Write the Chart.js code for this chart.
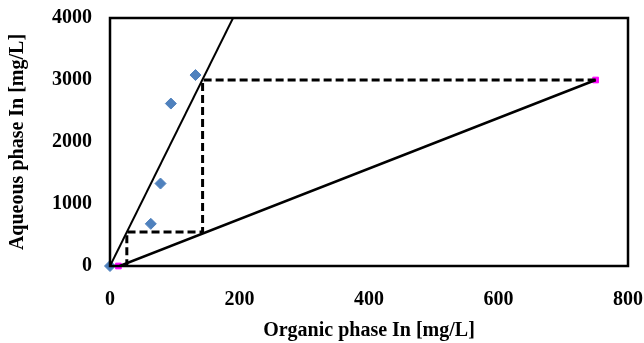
<!DOCTYPE html>
<html>
<head>
<meta charset="utf-8">
<script src="https://cdn.jsdelivr.net/npm/chart.js@4"></script>
<style>
  html, body { margin: 0; padding: 0; background: #fff; }
  #wrap { width: 644px; height: 343px; }
</style>
</head>
<body>
<div id="wrap"><canvas id="chart" width="644" height="343"></canvas></div>
<script>
// measured points (blue diamonds)
const dataX = [0, 63, 78, 94, 132];
const dataY = [0, 680, 1330, 2620, 3080];

// equilibrium line through origin
const equilX = [0, 190];
const equilY = [0, 4000];

// operating line
const operX = [15, 750];
const operY = [0, 3000];

// operating line end points (magenta)
const endX = [13, 750];
const endY = [0, 3000];

// McCabe-Thiele style steps
const stepX = [750, 143, 143, 26, 26];
const stepY = [3000, 3000, 550, 550, 0];

const xTicks = [0, 200, 400, 600, 800];
const yTicks = [0, 1000, 2000, 3000, 4000];

const pts = (xs, ys) => xs.map((x, i) => ({ x: x, y: ys[i] }));

const frame = {
  id: 'frame',
  afterDatasetsDraw(chart) {
    const a = chart.chartArea;
    const ctx = chart.ctx;
    ctx.save();
    ctx.strokeStyle = '#000';
    ctx.lineWidth = 2.5;
    ctx.strokeRect(a.left, a.top, a.right - a.left, a.bottom - a.top);
    ctx.restore();
  }
};

const font = { family: '"Liberation Serif", "Times New Roman", serif', weight: 'bold', size: 20 };

new Chart(document.getElementById('chart').getContext('2d'), {
  type: 'scatter',
  data: {
    datasets: [
      {
        label: 'steps',
        data: pts(stepX, stepY),
        showLine: true,
        borderColor: '#000',
        borderWidth: 3,
        borderDash: [8, 4],
        pointRadius: 0,
        fill: false
      },
      {
        label: 'equilibrium',
        data: pts(equilX, equilY),
        showLine: true,
        borderColor: '#000',
        borderWidth: 2,
        pointRadius: 0
      },
      {
        label: 'operating',
        data: pts(operX, operY),
        showLine: true,
        borderColor: '#000',
        borderWidth: 2.5,
        pointRadius: 0
      },
      {
        label: 'ends',
        data: pts(endX, endY),
        pointStyle: 'rect',
        pointRadius: 4,
        backgroundColor: '#ff00ff',
        borderColor: '#ff00ff',
        clip: false
      },
      {
        label: 'data',
        data: pts(dataX, dataY),
        pointStyle: 'rectRot',
        pointRadius: 5.5,
        backgroundColor: '#4f81bd',
        borderColor: '#4f81bd',
        clip: false
      }
    ]
  },
  options: {
    responsive: false,
    animation: false,
    layout: { padding: { top: 18, right: 16, left: 0, bottom: 0 } },
    plugins: {
      legend: { display: false },
      tooltip: { enabled: false }
    },
    scales: {
      x: {
        type: 'linear',
        min: 0,
        max: 800,
        afterBuildTicks: s => { s.ticks = xTicks.map(v => ({ value: v })); },
        afterFit: s => { s.height = 77; s.paddingLeft = 0; s.paddingRight = 0; },
        grid: { drawOnChartArea: false, drawTicks: false },
        border: { display: true, color: '#000', width: 2 },
        ticks: { color: '#000', font: font, padding: 22, maxRotation: 0, callback: v => String(v) },
        title: {
          display: true,
          text: 'Organic phase In [mg/L]',
          color: '#000',
          font: font,
          padding: { top: 0, bottom: 0 }
        }
      },
      y: {
        type: 'linear',
        min: 0,
        max: 4000,
        afterBuildTicks: s => { s.ticks = yTicks.map(v => ({ value: v })); },
        afterFit: s => { s.width = 110; s.paddingTop = 0; s.paddingBottom = 0; },
        grid: { drawOnChartArea: false, drawTicks: false },
        border: { display: true, color: '#000', width: 2 },
        ticks: { color: '#000', font: font, padding: 18, callback: v => String(v) },
        title: {
          display: true,
          text: 'Aqueous phase In [mg/L]',
          color: '#000',
          font: font,
          padding: { top: 6, bottom: 0 }
        }
      }
    }
  },
  plugins: [frame]
});
</script>
</body>
</html>
